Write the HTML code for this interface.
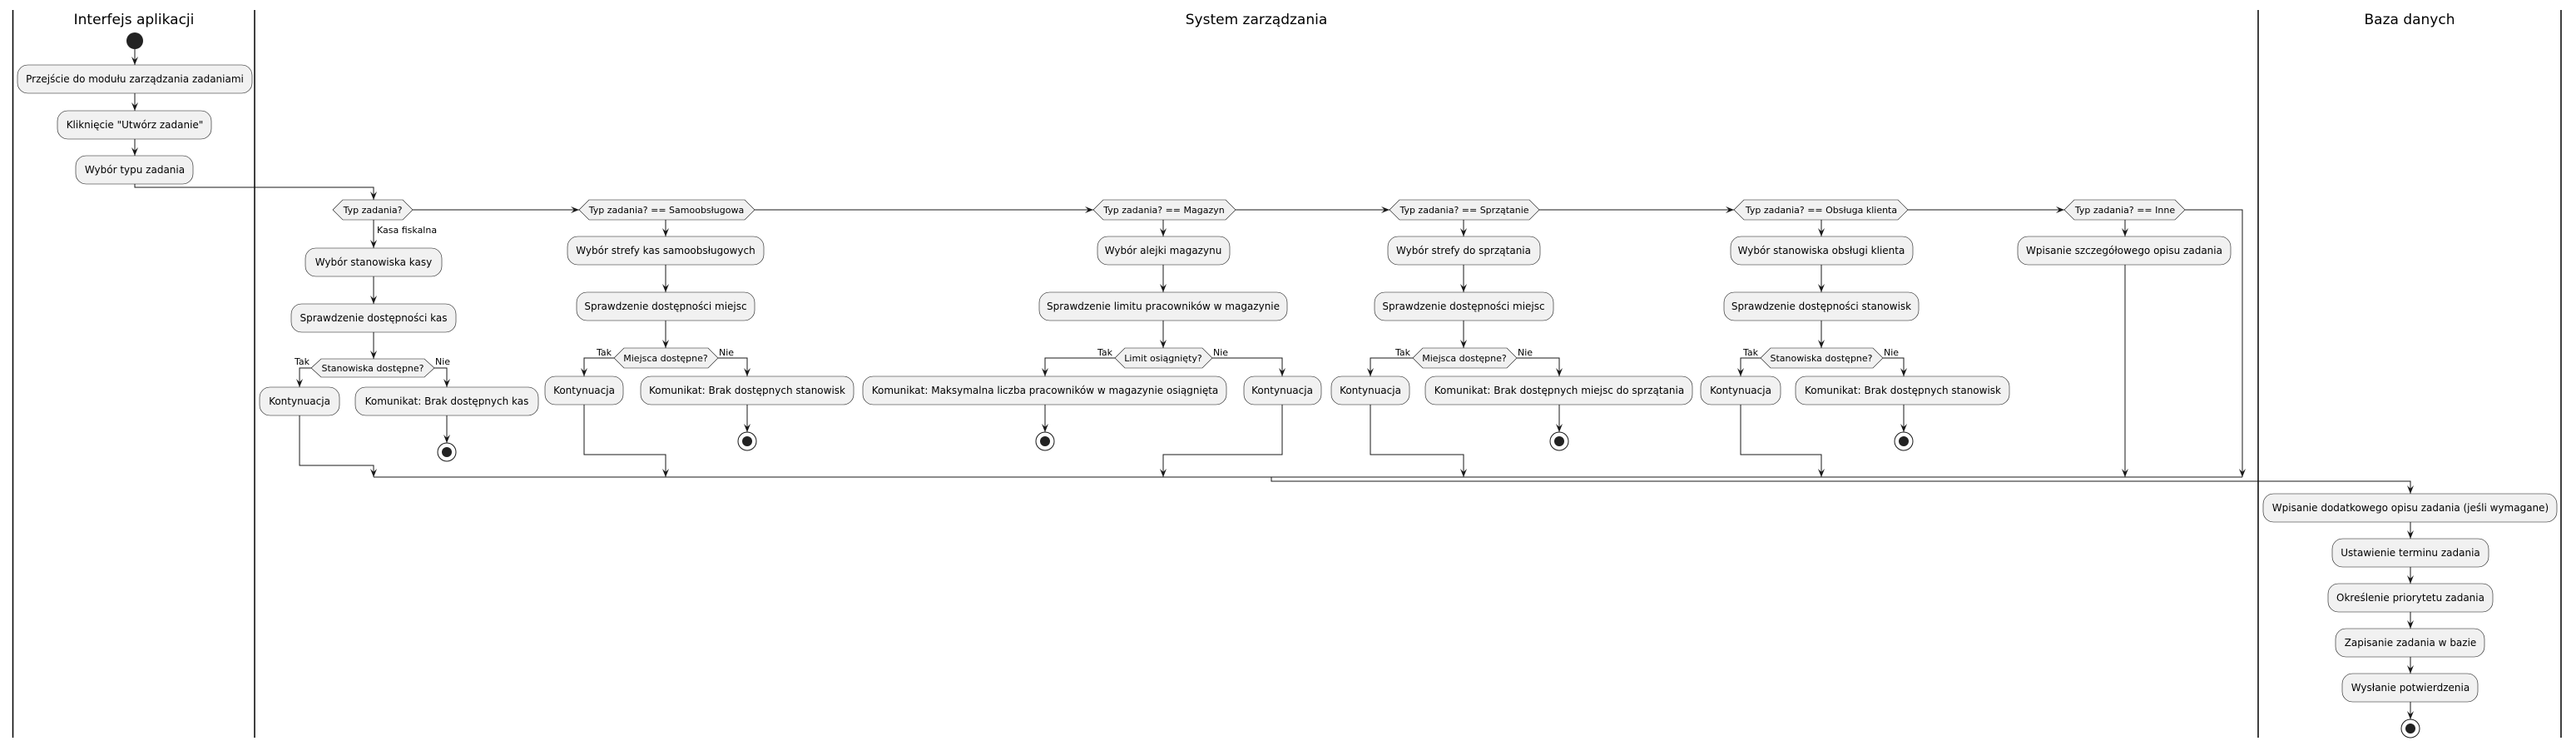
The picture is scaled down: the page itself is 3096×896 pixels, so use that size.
<!DOCTYPE html>
<html><head><meta charset="utf-8"><style>
html,body{margin:0;padding:0;background:#fff;}
svg{display:block;}
text{font-family:"DejaVu Sans","Liberation Sans",sans-serif;fill:#000;}
.b{fill:#F1F1F1;stroke:#181818;stroke-width:0.6;}
.l{fill:none;stroke:#181818;stroke-width:1;}
.a{fill:#181818;}
.t{font-size:12px;text-anchor:middle;}
.d{font-size:11px;text-anchor:middle;}
.s{font-size:11px;}
.h{font-size:17px;text-anchor:middle;}
</style></head><body>
<svg width="3096" height="896" viewBox="0 0 3096 896" xmlns="http://www.w3.org/2000/svg">
<defs>
<polygon id="ad" class="a" points="-4,-10 0,0 4,-10 0,-6"/>
<polygon id="ar" class="a" points="-10,-4 0,0 -10,4 -6,0"/>
<g id="end"><circle r="11" fill="#fff" stroke="#181818" stroke-width="1"/><circle r="6" fill="#222"/></g>
</defs>
<!-- lanes -->
<g stroke="#000" stroke-width="1.5">
<line x1="15.5" y1="12" x2="15.5" y2="886"/>
<line x1="306" y1="12" x2="306" y2="886"/>
<line x1="2714" y1="12" x2="2714" y2="886"/>
<line x1="3078" y1="12" x2="3078" y2="886"/>
</g>
<text class="h" x="161" y="29">Interfejs aplikacji</text>
<text class="h" x="1510" y="29">System zarządzania</text>
<text class="h" x="2896" y="29">Baza danych</text>

<!-- lane 1 -->
<circle cx="162" cy="49" r="10" fill="#222"/>
<path class="l" d="M162,59V78"/><use href="#ad" x="162" y="78"/>
<rect class="b" x="21" y="78" width="282" height="34" rx="12.5"/>
<text class="t" x="162" y="99">Przejście do modułu zarządzania zadaniami</text>
<path class="l" d="M162,112V133"/><use href="#ad" x="162" y="133"/>
<rect class="b" x="69" y="133" width="185" height="34" rx="12.5"/>
<text class="t" x="162" y="154">Kliknięcie "Utwórz zadanie"</text>
<path class="l" d="M162,167V187"/><use href="#ad" x="162" y="187"/>
<rect class="b" x="91" y="187" width="141" height="34" rx="12.5"/>
<text class="t" x="162" y="208">Wybór typu zadania</text>
<path class="l" d="M162,221V225H449V240"/><use href="#ad" x="449" y="240"/>

<!-- chain of decisions -->
<polygon class="b" points="400,252 412,240 484,240 496,252 484,264 412,264"/>
<text class="d" x="448" y="256">Typ zadania?</text>
<path class="l" d="M496,252H696"/><use href="#ar" x="696" y="252"/>
<polygon class="b" points="696,252 708,240 895,240 907,252 895,264 708,264"/>
<text class="d" x="801" y="256">Typ zadania? == Samoobsługowa</text>
<path class="l" d="M907,252H1314"/><use href="#ar" x="1314" y="252"/>
<polygon class="b" points="1314,252 1326,240 1473,240 1485,252 1473,264 1326,264"/>
<text class="d" x="1399" y="256">Typ zadania? == Magazyn</text>
<path class="l" d="M1485,252H1670"/><use href="#ar" x="1670" y="252"/>
<polygon class="b" points="1670,252 1682,240 1838,240 1850,252 1838,264 1682,264"/>
<text class="d" x="1760" y="256">Typ zadania? == Sprzątanie</text>
<path class="l" d="M1850,252H2084"/><use href="#ar" x="2084" y="252"/>
<polygon class="b" points="2084,252 2096,240 2281,240 2293,252 2281,264 2096,264"/>
<text class="d" x="2189" y="256">Typ zadania? == Obsługa klienta</text>
<path class="l" d="M2293,252H2481"/><use href="#ar" x="2481" y="252"/>
<polygon class="b" points="2481,252 2493,240 2614,240 2626,252 2614,264 2493,264"/>
<text class="d" x="2554" y="256">Typ zadania? == Inne</text>
<path class="l" d="M2626,252H2695V573"/><use href="#ad" x="2695" y="573"/>

<!-- branch 1 -->
<path class="l" d="M449,264V298"/><use href="#ad" x="449" y="298"/>
<text class="s" x="453" y="280">Kasa fiskalna</text>
<rect class="b" x="367" y="298" width="164" height="34" rx="12.5"/>
<text class="t" x="449" y="319">Wybór stanowiska kasy</text>
<path class="l" d="M449,332V365"/><use href="#ad" x="449" y="365"/>
<rect class="b" x="350" y="365" width="198" height="34" rx="12.5"/>
<text class="t" x="449" y="386">Sprawdzenie dostępności kas</text>
<path class="l" d="M449,399V431"/><use href="#ad" x="449" y="431"/>
<polygon class="b" points="374,442 386,431 510,431 522,442 510,453 386,453"/>
<text class="d" x="448" y="446">Stanowiska dostępne?</text>
<text class="s" x="354" y="438">Tak</text><text class="s" x="523" y="438">Nie</text>
<path class="l" d="M374,442H360V465"/><use href="#ad" x="360" y="465"/>
<path class="l" d="M522,442H537V465"/><use href="#ad" x="537" y="465"/>
<rect class="b" x="312" y="465" width="96" height="34" rx="12.5"/>
<text class="t" x="360" y="486">Kontynuacja</text>
<rect class="b" x="427" y="465" width="220" height="34" rx="12.5"/>
<text class="t" x="537" y="486">Komunikat: Brak dostępnych kas</text>
<path class="l" d="M537,499V532"/><use href="#ad" x="537" y="532"/>
<use href="#end" x="537" y="543"/>
<path class="l" d="M360,499V559H449V573"/><use href="#ad" x="449" y="573"/>

<!-- branch 2 -->
<path class="l" d="M800,264V284"/><use href="#ad" x="800" y="284"/>
<rect class="b" x="682" y="284" width="236" height="34" rx="12.5"/>
<text class="t" x="800" y="305">Wybór strefy kas samoobsługowych</text>
<path class="l" d="M800,318V351"/><use href="#ad" x="800" y="351"/>
<rect class="b" x="693" y="351" width="214" height="34" rx="12.5"/>
<text class="t" x="800" y="372">Sprawdzenie dostępności miejsc</text>
<path class="l" d="M800,385V418"/><use href="#ad" x="800" y="418"/>
<polygon class="b" points="738,430 750,418 851,418 863,430 851,442 750,442"/>
<text class="d" x="800" y="434">Miejsca dostępne?</text>
<text class="s" x="717" y="427">Tak</text><text class="s" x="864" y="427">Nie</text>
<path class="l" d="M738,430H702V452"/><use href="#ad" x="702" y="452"/>
<path class="l" d="M863,430H898V452"/><use href="#ad" x="898" y="452"/>
<rect class="b" x="655" y="452" width="94" height="34" rx="12.5"/>
<text class="t" x="702" y="473">Kontynuacja</text>
<rect class="b" x="770" y="452" width="256" height="34" rx="12.5"/>
<text class="t" x="898" y="473">Komunikat: Brak dostępnych stanowisk</text>
<path class="l" d="M898,486V519"/><use href="#ad" x="898" y="519"/>
<use href="#end" x="898" y="530"/>
<path class="l" d="M702,486V546H800V573"/><use href="#ad" x="800" y="573"/>

<!-- branch 3 -->
<path class="l" d="M1398,264V284"/><use href="#ad" x="1398" y="284"/>
<rect class="b" x="1319" y="284" width="159" height="34" rx="12.5"/>
<text class="t" x="1398" y="305">Wybór alejki magazynu</text>
<path class="l" d="M1398,318V351"/><use href="#ad" x="1398" y="351"/>
<rect class="b" x="1249" y="351" width="298" height="34" rx="12.5"/>
<text class="t" x="1398" y="372">Sprawdzenie limitu pracowników w magazynie</text>
<path class="l" d="M1398,385V418"/><use href="#ad" x="1398" y="418"/>
<polygon class="b" points="1340,430 1352,418 1445,418 1457,430 1445,442 1352,442"/>
<text class="d" x="1398" y="434">Limit osiągnięty?</text>
<text class="s" x="1319" y="427">Tak</text><text class="s" x="1458" y="427">Nie</text>
<path class="l" d="M1340,430H1256V452"/><use href="#ad" x="1256" y="452"/>
<path class="l" d="M1457,430H1541V452"/><use href="#ad" x="1541" y="452"/>
<rect class="b" x="1037" y="452" width="437" height="34" rx="12.5"/>
<text class="t" x="1256" y="473">Komunikat: Maksymalna liczba pracowników w magazynie osiągnięta</text>
<rect class="b" x="1495" y="452" width="93" height="34" rx="12.5"/>
<text class="t" x="1541" y="473">Kontynuacja</text>
<path class="l" d="M1256,486V519"/><use href="#ad" x="1256" y="519"/>
<use href="#end" x="1256" y="530"/>
<path class="l" d="M1541,486V546H1398V573"/><use href="#ad" x="1398" y="573"/>

<!-- branch 4 -->
<path class="l" d="M1759,264V284"/><use href="#ad" x="1759" y="284"/>
<rect class="b" x="1668" y="284" width="183" height="34" rx="12.5"/>
<text class="t" x="1759" y="305">Wybór strefy do sprzątania</text>
<path class="l" d="M1759,318V351"/><use href="#ad" x="1759" y="351"/>
<rect class="b" x="1652" y="351" width="215" height="34" rx="12.5"/>
<text class="t" x="1759" y="372">Sprawdzenie dostępności miejsc</text>
<path class="l" d="M1759,385V418"/><use href="#ad" x="1759" y="418"/>
<polygon class="b" points="1698,430 1710,418 1811,418 1823,430 1811,442 1710,442"/>
<text class="d" x="1760" y="434">Miejsca dostępne?</text>
<text class="s" x="1677" y="427">Tak</text><text class="s" x="1824" y="427">Nie</text>
<path class="l" d="M1698,430H1647V452"/><use href="#ad" x="1647" y="452"/>
<path class="l" d="M1823,430H1874V452"/><use href="#ad" x="1874" y="452"/>
<rect class="b" x="1600" y="452" width="94" height="34" rx="12.5"/>
<text class="t" x="1647" y="473">Kontynuacja</text>
<rect class="b" x="1713" y="452" width="321" height="34" rx="12.5"/>
<text class="t" x="1874" y="473">Komunikat: Brak dostępnych miejsc do sprzątania</text>
<path class="l" d="M1874,486V519"/><use href="#ad" x="1874" y="519"/>
<use href="#end" x="1874" y="530"/>
<path class="l" d="M1647,486V546H1759V573"/><use href="#ad" x="1759" y="573"/>

<!-- branch 5 -->
<path class="l" d="M2189,264V284"/><use href="#ad" x="2189" y="284"/>
<rect class="b" x="2080" y="284" width="219" height="34" rx="12.5"/>
<text class="t" x="2189" y="305">Wybór stanowiska obsługi klienta</text>
<path class="l" d="M2189,318V351"/><use href="#ad" x="2189" y="351"/>
<rect class="b" x="2072" y="351" width="234" height="34" rx="12.5"/>
<text class="t" x="2189" y="372">Sprawdzenie dostępności stanowisk</text>
<path class="l" d="M2189,385V418"/><use href="#ad" x="2189" y="418"/>
<polygon class="b" points="2116,430 2128,418 2251,418 2263,430 2251,442 2128,442"/>
<text class="d" x="2189" y="434">Stanowiska dostępne?</text>
<text class="s" x="2095" y="427">Tak</text><text class="s" x="2264" y="427">Nie</text>
<path class="l" d="M2116,430H2092V452"/><use href="#ad" x="2092" y="452"/>
<path class="l" d="M2263,430H2288V452"/><use href="#ad" x="2288" y="452"/>
<rect class="b" x="2044" y="452" width="96" height="34" rx="12.5"/>
<text class="t" x="2092" y="473">Kontynuacja</text>
<rect class="b" x="2158" y="452" width="257" height="34" rx="12.5"/>
<text class="t" x="2287" y="473">Komunikat: Brak dostępnych stanowisk</text>
<path class="l" d="M2288,486V519"/><use href="#ad" x="2288" y="519"/>
<use href="#end" x="2288" y="530"/>
<path class="l" d="M2092,486V546H2189V573"/><use href="#ad" x="2189" y="573"/>

<!-- branch 6 -->
<path class="l" d="M2554,264V284"/><use href="#ad" x="2554" y="284"/>
<rect class="b" x="2425" y="284" width="256" height="34" rx="12.5"/>
<text class="t" x="2553" y="305">Wpisanie szczegółowego opisu zadania</text>
<path class="l" d="M2554,318V573"/><use href="#ad" x="2554" y="573"/>

<!-- merge -->
<path class="l" d="M449,573H2695"/>
<path class="l" d="M1528,573V578H2897V593"/><use href="#ad" x="2897" y="593"/>

<!-- Baza danych -->
<rect class="b" x="2720" y="593" width="353" height="34" rx="12.5"/>
<text class="t" x="2897" y="614">Wpisanie dodatkowego opisu zadania (jeśli wymagane)</text>
<path class="l" d="M2897,627V647"/><use href="#ad" x="2897" y="647"/>
<rect class="b" x="2803" y="647" width="188" height="34" rx="12.5"/>
<text class="t" x="2897" y="668">Ustawienie terminu zadania</text>
<path class="l" d="M2897,681V701"/><use href="#ad" x="2897" y="701"/>
<rect class="b" x="2798" y="701" width="198" height="34" rx="12.5"/>
<text class="t" x="2897" y="722">Określenie priorytetu zadania</text>
<path class="l" d="M2897,735V755"/><use href="#ad" x="2897" y="755"/>
<rect class="b" x="2807" y="755" width="179" height="34" rx="12.5"/>
<text class="t" x="2897" y="776">Zapisanie zadania w bazie</text>
<path class="l" d="M2897,789V809"/><use href="#ad" x="2897" y="809"/>
<rect class="b" x="2815" y="809" width="163" height="34" rx="12.5"/>
<text class="t" x="2897" y="830">Wysłanie potwierdzenia</text>
<path class="l" d="M2897,843V864"/><use href="#ad" x="2897" y="864"/>
<use href="#end" x="2897" y="875"/>
</svg>
</body></html>
